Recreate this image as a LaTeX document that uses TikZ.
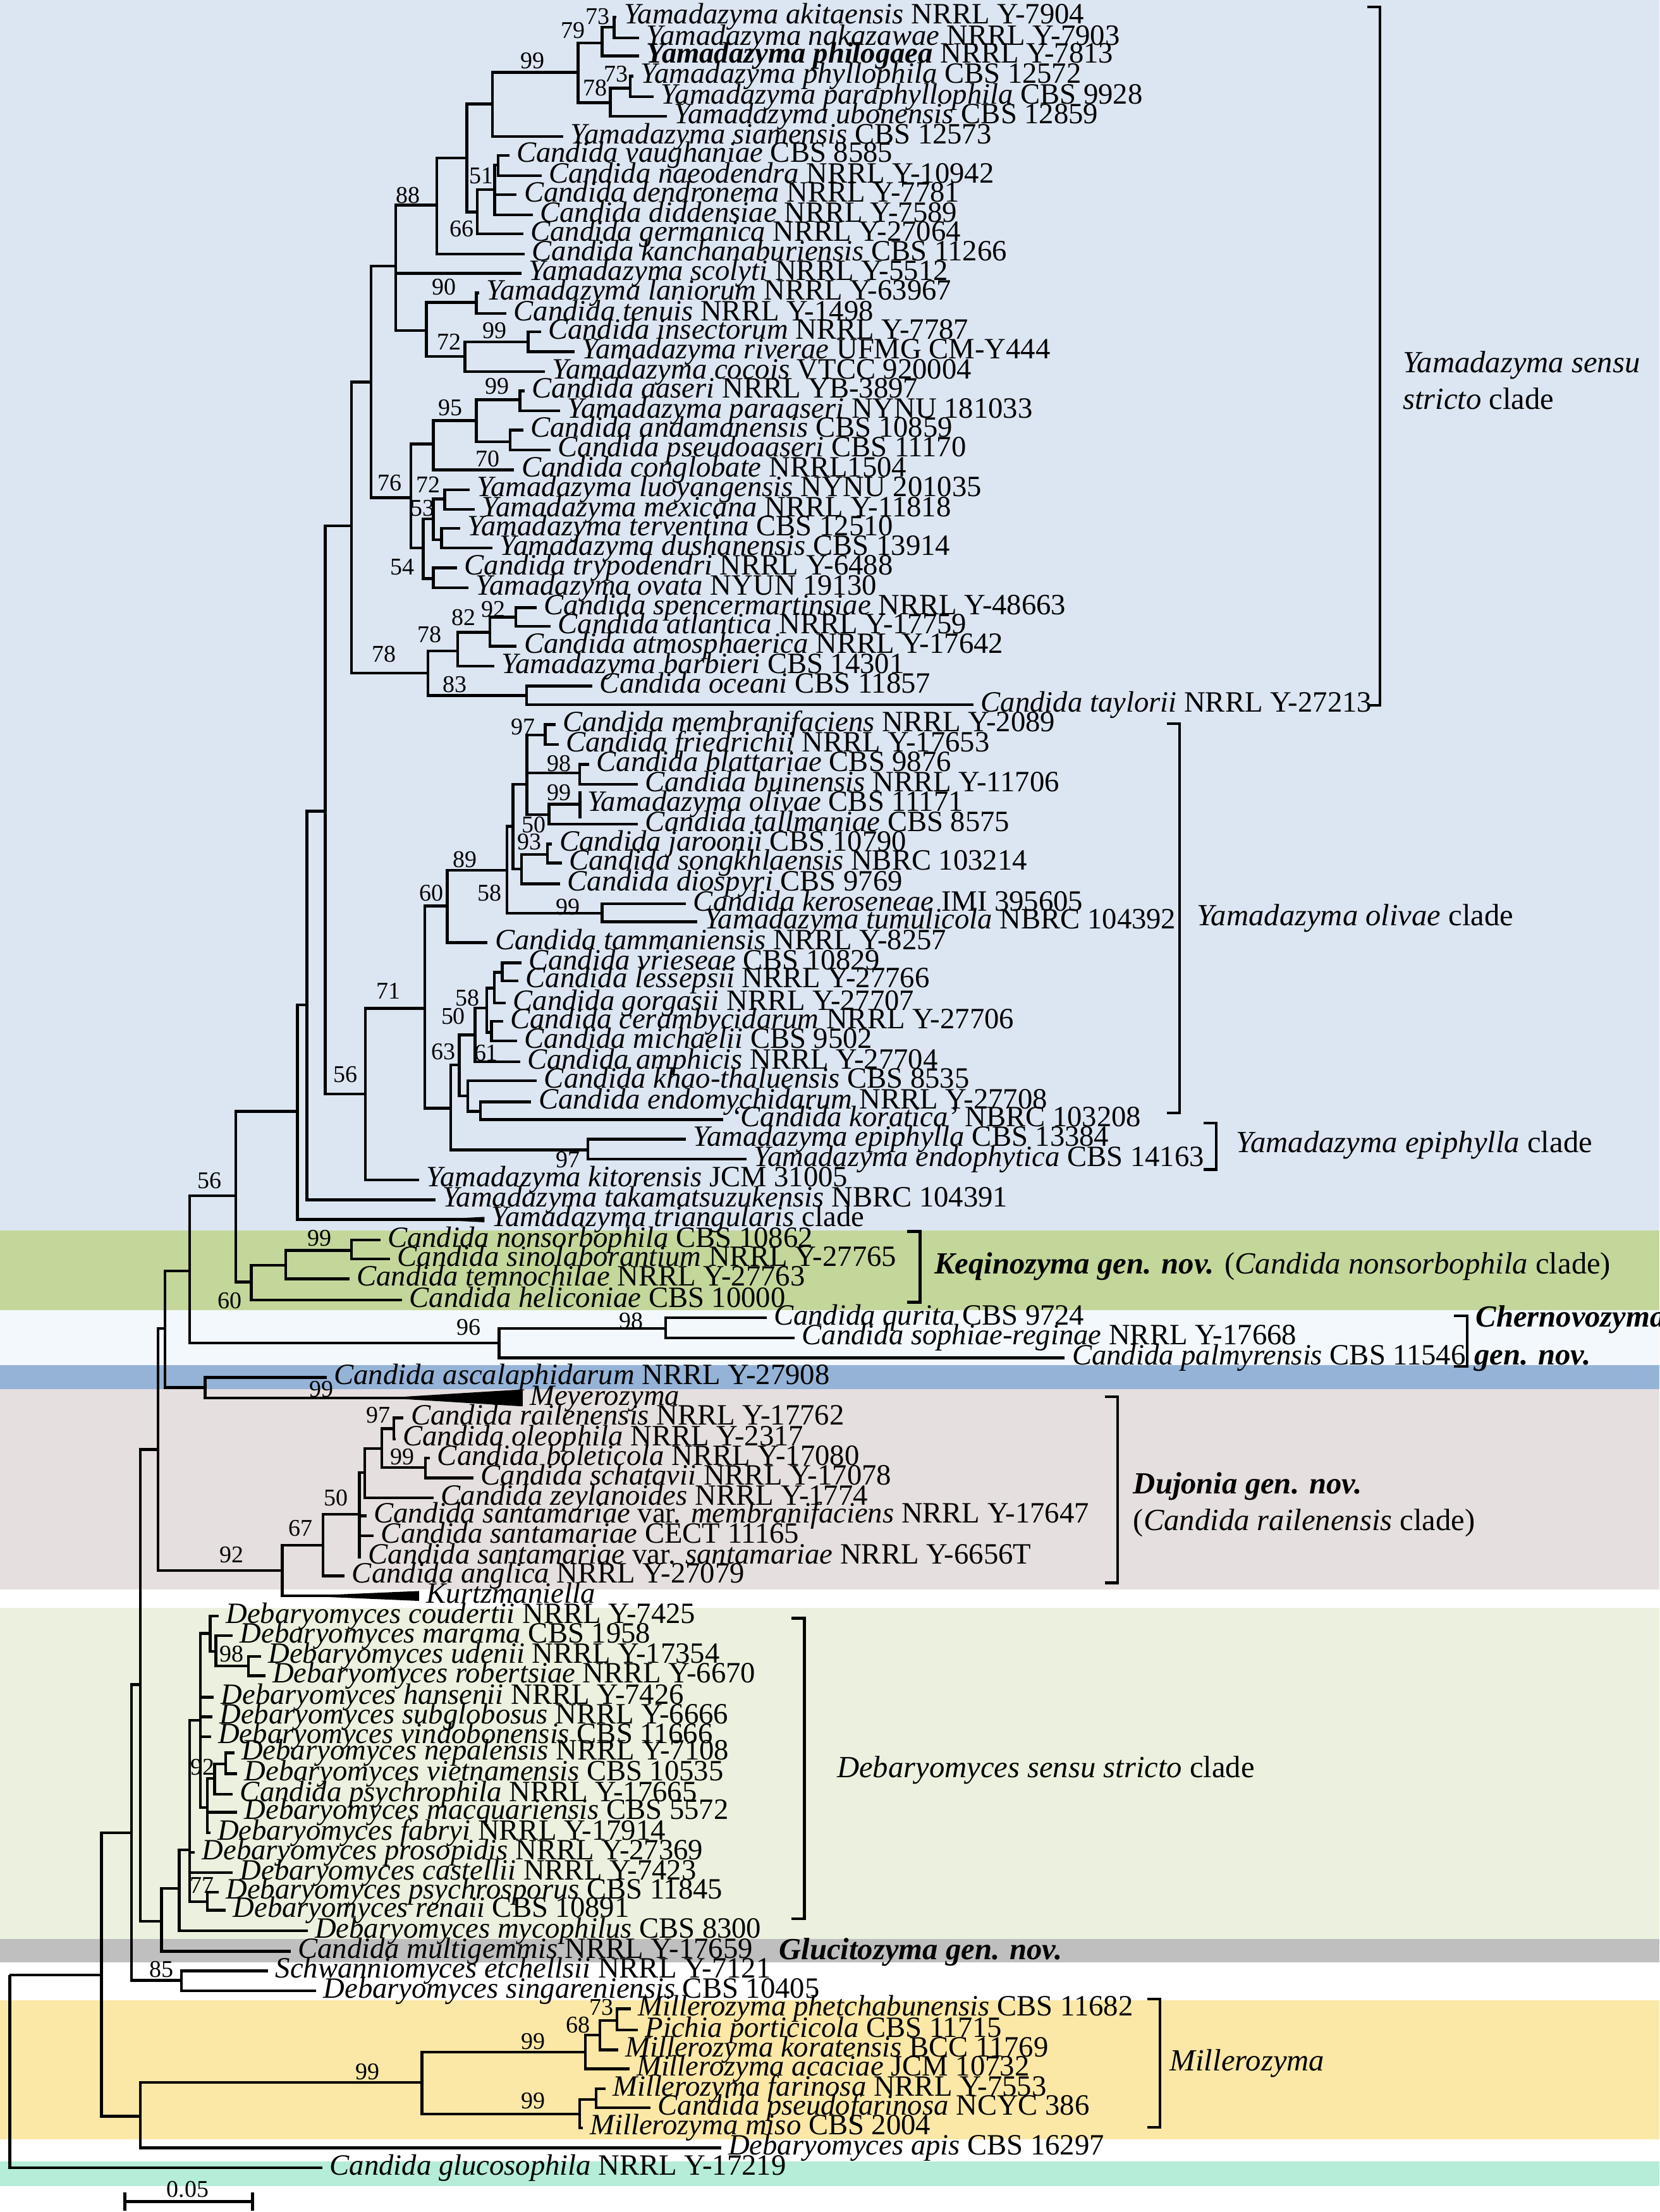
\documentclass[tikz,border=0pt]{standalone}
\usepackage{fontspec}
\setmainfont{Liberation Serif}
\usepackage{tikz}
\definecolor{bandyama}{HTML}{DCE6F2}
\definecolor{bandkeq}{HTML}{C4D79B}
\definecolor{bandcher}{HTML}{F2F8FC}
\definecolor{bandasc}{HTML}{95B3D7}
\definecolor{banddujo}{HTML}{E6DFDF}
\definecolor{banddeba}{HTML}{EBF1DE}
\definecolor{bandgluc}{HTML}{BFBFBF}
\definecolor{bandmill}{HTML}{FBE8A6}
\definecolor{bandgluco}{HTML}{B5EDD8}
\tikzset{
  br/.style={draw=black, line width=2pt, line join=miter},
  brk/.style={draw=black, line width=2pt},
  lf/.style={anchor=base west, inner sep=0pt, xshift=5pt, yshift=-5pt, font=\fontsize{20.9}{20.9}\selectfont},
  bs/.style={inner sep=0pt, font=\fontsize{17}{17}\selectfont},
  cl/.style={anchor=base west, inner sep=0pt, font=\fontsize{21.8}{21.8}\selectfont},
  tri/.style={fill=black},
}
\newcommand{\taxon}[2]{\textit{#1} #2}

\begin{document}
\begin{tikzpicture}[x=1pt,y=-1pt]
  \useasboundingbox (0,0) rectangle (1176,1568);

  % coloured bands behind the clades
  \fill[bandyama]  (0,0)      rectangle (1176,872.2);
  \fill[bandkeq]   (0,872.2)  rectangle (1176,928.6);
  \fill[bandcher]  (0,928.6)  rectangle (1176,967.7);
  \fill[bandasc]   (0,967.7)  rectangle (1176,984.9);
  \fill[banddujo]  (0,984.9)  rectangle (1176,1126.8);
  \fill[banddeba]  (0,1139.8) rectangle (1176,1374.6);
  \fill[bandgluc]  (0,1374.6) rectangle (1176,1391.1);
  \fill[bandmill]  (0,1418)   rectangle (1176,1516.5);
  \fill[bandgluco] (0,1532.2) rectangle (1176,1549.4);

  % internal nodes (x = depth, y = where the parent branch comes in)
  \foreach \n/\x/\y in {R0/6.9/1400.1, A1/435.2/19.2, A2/426.8/30.4, A3/409.6/51.2, A4/432.5/72.8,
      A5/446.7/62.4, A6/349/73.6, A7/330.8/112, A8/309.5/145.3, A9/280.5/188.5, A10/262.9/270.9,
      A11/249.1/372.8, A12/230.5/575, A13/217.5/712.4, A14/210.8/787.7, A15/167.2/847.6,
      A16/134.3/900.9, A17/117/941.6, A18/111.9/1027.5, A19/99.5/1194.1, A20/93.2/1299.2,
      A21/71.8/1400.1,
      B1/338.3/150.4, B2/350.6/134.4, B3/352.9/117,
      C1/302.2/234.4, C2/337.6/214.4, C3/329.6/252.7, C4/374.2/242.4,
      D1/291.2/352.9, D2/307.2/314.8, D3/337.6/298.2, D4/368.5/283.3, D9/361.6/313.2,
      D5/299.9/388.5, D6/307.2/367.8, D7/315.2/353.7, D10/312.9/382.7, D8/307.2/410.1,
      E1/303.3/477.2, E2/324.4/461.4, E3/347.2/448.2, E4/365.5/437.4, E5/373.1/493,
      F1/259/775.5, F2/301/714.8,
      G1/317/642.3, G2/359.3/616.9, G3/363.5/585.7, G4/373.5/556, G5/386.3/521, G6/410.8/547.8,
      G7/389/577.5, G8/369.6/616.1, G10/387.9/605.7, G9/426.8/647.3,
      H1/319.4/785.5, H2/325.5/754.9, H3/336.7/733.6, H4/345/714.6, H5/350.4/700.4,
      H6/348.4/731.8, H7/331.5/776.9, H8/340.5/787.8, H9/416.6/815.1, H10/356/689.2,
      K1/178/908.8, K2/202.4/896.8, K3/249/886.4,
      CH1/353.7/952.1, CH2/471.8/941.6, MY1/145.3/983.5,
      DU1/200.1/1113.3, DU2/228.9/1095.4, DU3/254.6/1073.5, DU4/258.5/1043.9,
      DU5/270.6/1026.8, DU6/279.1/1012.6, DU7/301.4/1040.2,
      DB0/114.4/1361.8, DB1/127/1338.6, DB2/134.4/1311.2, DB3/142/1219.5, DB4/147/1348.1,
      DB5/149/1157.8, DB6/147/1281.2, DB7/152/1260.6, DB8/160/1250.4, DB9/153/1170.7,
      DB10/176/1181,
      SW/128.6/1403.8,
      MI0/99.4/1500.1, MI1/299/1476.2, MI2/414.9/1454.6, MI3/425.2/1442.6, MI4/437.2/1432.2,
      MI6/410.8/1498.6, MI7/422.4/1488.2}
    \coordinate (\n) at (\x,\y);

  % leaves: branch tip and name
  \foreach \i/\x/\y/\txt in {
      1/437/12/{\taxon{Yamadazyma akitaensis}{NRRL Y-7904}},
      2/453/26.9/{\taxon{Yamadazyma nakazawae}{NRRL Y-7903}},
      3/453/39.7/{\textbf{\textit{Yamadazyma philogaea}} NRRL Y-7813},
      4/449/54/{\taxon{Yamadazyma phyllophila}{CBS 12572}},
      5/463.4/68.5/{\taxon{Yamadazyma paraphyllophila}{CBS 9928}},
      6/472.5/82.4/{\taxon{Yamadazyma ubonensis}{CBS 12859}},
      7/399.3/96.8/{\taxon{Yamadazyma siamensis}{CBS 12573}},
      8/360.9/110.1/{\taxon{Candida vaughaniae}{CBS 8585}},
      9/384/124.5/{\taxon{Candida naeodendra}{NRRL Y-10942}},
      10/366.2/138/{\taxon{Candida dendronema}{NRRL Y-7781}},
      11/377.6/152.3/{\taxon{Candida diddensiae}{NRRL Y-7589}},
      12/370.8/165.8/{\taxon{Candida germanica}{NRRL Y-27064}},
      13/371.9/180/{\taxon{Candida kanchanaburiensis}{CBS 11266}},
      14/369.6/193.8/{\taxon{Yamadazyma scolyti}{NRRL Y-5512}},
      15/339.5/207.6/{\taxon{Yamadazyma laniorum}{NRRL Y-63967}},
      16/358.9/222.2/{\taxon{Candida tenuis}{NRRL Y-1498}},
      17/383.3/235.3/{\taxon{Candida insectorum}{NRRL Y-7787}},
      18/407.3/249.4/{\taxon{Yamadazyma riverae}{UFMG CM-Y444}},
      19/386.3/263.4/{\taxon{Yamadazyma cocois}{VTCC 920004}},
      20/371.9/277/{\taxon{Candida aaseri}{NRRL YB-3897}},
      21/397/291.3/{\taxon{Yamadazyma paraaseri}{NYNU 181033}},
      22/370.8/304.9/{\taxon{Candida andamanensis}{CBS 10859}},
      23/390.2/318.9/{\taxon{Candida pseudoaaseri}{CBS 11170}},
      24/364.4/333/{\taxon{Candida conglobate}{NRRL1504}},
      25/333/347.1/{\taxon{Yamadazyma luoyangensis}{NYNU 201035}},
      26/336.5/361.2/{\taxon{Yamadazyma mexicana}{NRRL Y-11818}},
      27/326.2/374.5/{\taxon{Yamadazyma terventina}{CBS 12510}},
      28/349/388.5/{\taxon{Yamadazyma dushanensis}{CBS 13914}},
      29/323.9/402.6/{\taxon{Candida trypodendri}{NRRL Y-6488}},
      30/331.9/416.7/{\taxon{Yamadazyma ovata}{NYUN 19130}},
      31/380.4/430.8/{\taxon{Candida spencermartinsiae}{NRRL Y-48663}},
      32/390.2/444/{\taxon{Candida atlantica}{NRRL Y-17759}},
      33/366.2/458.1/{\taxon{Candida atmosphaerica}{NRRL Y-17642}},
      34/350.2/472.2/{\taxon{Yamadazyma barbieri}{CBS 14301}},
      35/419.9/486.3/{\taxon{Candida oceani}{CBS 11857}},
      36/690/499.6/{\taxon{Candida taylorii}{NRRL Y-27213}},
      37/393.6/513.6/{\taxon{Candida membranifaciens}{NRRL Y-2089}},
      38/395.9/527.7/{\taxon{Candida friedrichii}{NRRL Y-17653}},
      39/417.6/541.8/{\taxon{Candida blattariae}{CBS 9876}},
      40/451.9/555.9/{\taxon{Candida buinensis}{NRRL Y-11706}},
      41/411/570.1/{\taxon{Yamadazyma olivae}{CBS 11171}},
      42/452/584.2/{\taxon{Candida tallmaniae}{CBS 8575}},
      43/391.3/598.3/{\taxon{Candida jaroonii}{CBS 10790}},
      44/398.2/611.7/{\taxon{Candida songkhlaensis}{NBRC 103214}},
      45/397/626.5/{\taxon{Candida diospyri}{CBS 9769}},
      46/486.2/640.7/{\taxon{Candida keroseneae}{IMI 395605}},
      47/494/653.3/{\taxon{Yamadazyma tumulicola}{NBRC 104392}},
      48/345.6/668.1/{\taxon{Candida tammaniensis}{NRRL Y-8257}},
      49/369.4/682.5/{\taxon{Candida vrieseae}{CBS 10829}},
      50/367.4/695.2/{\taxon{Candida lessepsii}{NRRL Y-27766}},
      51/358.4/710.9/{\taxon{Candida gorgasii}{NRRL Y-27707}},
      52/356.4/724/{\taxon{Candida cerambycidarum}{NRRL Y-27706}},
      53/366.4/737.8/{\taxon{Candida michaelii}{CBS 9502}},
      54/368.5/752.7/{\taxon{Candida amphicis}{NRRL Y-27704}},
      55/380.5/766.1/{\taxon{Candida khao-thaluensis}{CBS 8535}},
      56/376.5/781.1/{\taxon{Candida endomychidarum}{NRRL Y-27708}},
      57/512.7/793.7/{\taxon{‘Candida koratica’}{NBRC 103208}},
      58/486/807.6/{\taxon{Yamadazyma epiphylla}{CBS 13384}},
      59/529/821.7/{\taxon{Yamadazyma endophytica}{CBS 14163}},
      60/297/836.3/{\taxon{Yamadazyma kitorensis}{JCM 31005}},
      61/308.5/850.5/{\taxon{Yamadazyma takamatsuzukensis}{NBRC 104391}},
      62/343.3/864.5/{\taxon{Yamadazyma triangularis}{clade}},
      63/269.5/878.9/{\taxon{Candida nonsorbophila}{CBS 10862}},
      64/276.5/892.4/{\taxon{Candida sinolaborantium}{NRRL Y-27765}},
      65/247.7/906.5/{\taxon{Candida temnochilae}{NRRL Y-27763}},
      66/285/921.5/{\taxon{Candida heliconiae}{CBS 10000}},
      67/543.2/934.1/{\taxon{Candida qurita}{CBS 9724}},
      68/563.2/948.3/{\taxon{Candida sophiae-reginae}{NRRL Y-17668}},
      69/754.6/962.5/{\taxon{Candida palmyrensis}{CBS 11546}},
      70/231.5/976.4/{\taxon{Candida ascalaphidarum}{NRRL Y-27908}},
      71/370.4/990.9/{\textit{Meyerozyma}},
      72/286/1005.1/{\taxon{Candida railenensis}{NRRL Y-17762}},
      73/280.3/1020/{\taxon{Candida oleophila}{NRRL Y-2317}},
      74/304.8/1033.5/{\taxon{Candida boleticola}{NRRL Y-17080}},
      75/335.6/1047.7/{\taxon{Candida schatavii}{NRRL Y-17078}},
      76/307.4/1061.8/{\taxon{Candida zeylanoides}{NRRL Y-1774}},
      77/259.8/1074.5/{\textit{Candida santamariae} var. \textit{membranifaciens} NRRL Y-17647},
      78/264.9/1088.7/{\taxon{Candida santamariae}{CECT 11165}},
      79/255.9/1103.6/{\textit{Candida santamariae} var. \textit{santamariae} NRRL Y-6656T},
      80/244.3/1117.1/{\taxon{Candida anglica}{NRRL Y-27079}},
      81/297/1131.3/{\textit{Kurtzmaniella}},
      82/155/1145.5/{\taxon{Debaryomyces coudertii}{NRRL Y-7425}},
      83/165/1159.5/{\taxon{Debaryomyces marama}{CBS 1958}},
      84/185/1174.1/{\taxon{Debaryomyces udenii}{NRRL Y-17354}},
      85/188/1187.8/{\taxon{Debaryomyces robertsiae}{NRRL Y-6670}},
      86/151.5/1203/{\taxon{Debaryomyces hansenii}{NRRL Y-7426}},
      87/150.5/1217/{\taxon{Debaryomyces subglobosus}{NRRL Y-6666}},
      88/149.5/1231/{\taxon{Debaryomyces vindobonensis}{CBS 11666}},
      89/166/1242.6/{\taxon{Debaryomyces nepalensis}{NRRL Y-7108}},
      90/168/1257.2/{\taxon{Debaryomyces vietnamensis}{CBS 10535}},
      91/165/1271.8/{\taxon{Candida psychrophila}{NRRL Y-17665}},
      92/168/1284.6/{\taxon{Debaryomyces macquariensis}{CBS 5572}},
      93/149/1299.2/{\taxon{Debaryomyces fabryi}{NRRL Y-17914}},
      94/138/1313/{\taxon{Debaryomyces prosopidis}{NRRL Y-27369}},
      95/165/1327.5/{\taxon{Debaryomyces castellii}{NRRL Y-7423}},
      96/155/1341.2/{\taxon{Debaryomyces psychrosporus}{CBS 11845}},
      97/160/1354.1/{\taxon{Debaryomyces renaii}{CBS 10891}},
      98/218/1368.6/{\taxon{Debaryomyces mycophilus}{CBS 8300}},
      99/206/1383.2/{\taxon{Candida multigemmis}{NRRL Y-17659}},
      100/190/1397.1/{\taxon{Schwanniomyces etchellsii}{NRRL Y-7121}},
      101/224/1411.3/{\taxon{Debaryomyces singareniensis}{CBS 10405}},
      102/447/1424/{\taxon{Millerozyma phetchabunensis}{CBS 11682}},
      103/452/1438.9/{\taxon{Pichia porticicola}{CBS 11715}},
      104/438/1453.1/{\taxon{Millerozyma koratensis}{BCC 11769}},
      105/446/1466.5/{\taxon{Millerozyma acaciae}{JCM 10732}},
      106/429/1480.7/{\taxon{Millerozyma farinosa}{NRRL Y-7553}},
      107/461/1494.1/{\taxon{Candida pseudofarinosa}{NCYC 386}},
      108/413/1508.3/{\taxon{Millerozyma miso}{CBS 2004}},
      109/511/1522.5/{\taxon{Debaryomyces apis}{CBS 16297}},
      110/228.5/1536.7/{\taxon{Candida glucosophila}{NRRL Y-17219}}}
    {
      \coordinate (t\i) at (\x,\y);
      \node[lf] (n\i) at (t\i) {\txt};
    }

  % branches
  \foreach \p/\c in {R0/A21, R0/t110, A21/A20, A21/MI0, A20/A19, A20/SW, A19/A18, A19/DB0,
      A18/A17, A18/DU1, A17/A16, A17/MY1, A16/A15, A16/CH1, A15/A14, A15/K1,
      A14/A13, A14/t62, A13/A12, A13/t61, A12/A11, A12/F1, A11/A10, A11/E1,
      A10/A9, A10/D1, A9/A8, A9/t14, A9/C1, A8/A7, A8/t13, A7/A6, A7/B1,
      A6/A3, A6/t7, A3/A2, A3/A4, A2/A1, A2/t3, A1/t1, A1/t2, A4/A5, A4/t6, A5/t4, A5/t5,
      B1/B2, B1/t12, B2/B3, B2/t10, B2/t11, B3/t8, B3/t9,
      C1/C2, C1/C3, C2/t15, C2/t16, C3/C4, C3/t19, C4/t17, C4/t18,
      D1/D2, D1/D5, D2/D3, D2/t24, D3/D4, D3/D9, D4/t20, D4/t21, D9/t22, D9/t23,
      D5/D6, D5/D8, D6/D7, D6/D10, D7/t25, D7/t26, D10/t27, D10/t28, D8/t29, D8/t30,
      E1/E2, E1/E5, E2/E3, E2/t34, E3/E4, E3/t33, E4/t31, E4/t32, E5/t35, E5/t36,
      F1/F2, F1/t60, F2/G1, F2/H1, G1/G2, G1/t48, G2/G3, G2/G9, G3/G4, G3/G8,
      G4/G5, G4/G6, G4/G7, G5/t37, G5/t38, G6/t39, G6/t40, G7/t41, G7/t42,
      G8/G10, G8/t45, G10/t43, G10/t44, G9/t46, G9/t47,
      H1/H2, H1/H9, H2/H3, H2/H7, H3/H4, H3/t54, H4/H5, H4/H6, H5/H10, H5/t51,
      H10/t49, H10/t50, H6/t52, H6/t53, H7/t55, H7/H8, H8/t56, H8/t57, H9/t58, H9/t59,
      K1/K2, K1/t66, K2/K3, K2/t65, K3/t63, K3/t64,
      CH1/CH2, CH1/t69, CH2/t67, CH2/t68, MY1/t70, MY1/t71,
      DU1/DU2, DU1/t81, DU2/DU3, DU2/t80, DU3/DU4, DU3/t77, DU3/t78, DU3/t79,
      DU4/DU5, DU4/t76, DU5/DU6, DU5/DU7, DU6/t72, DU6/t73, DU7/t74, DU7/t75,
      DB0/DB1, DB0/t99, DB1/DB2, DB1/t98, DB2/DB3, DB2/t94, DB2/t95, DB2/DB4,
      DB3/DB5, DB3/t86, DB3/t87, DB3/t88, DB3/DB6, DB4/t96, DB4/t97,
      DB5/t82, DB5/DB9, DB9/t83, DB9/DB10, DB10/t84, DB10/t85,
      DB6/DB7, DB6/t92, DB6/t93, DB7/DB8, DB7/t91, DB8/t89, DB8/t90,
      SW/t100, SW/t101, MI0/MI1, MI0/t109, MI1/MI2, MI1/MI6, MI2/MI3, MI2/t105,
      MI3/MI4, MI3/t104, MI4/t102, MI4/t103, MI6/MI7, MI6/t108, MI7/t106, MI7/t107}
    \draw[br] (\p) |- (\c);
  \draw[br] (411,561) -- (411,580);

  % collapsed clades
  \fill[tri] (305,864.5) -- (343.3,862.6) -- (343.3,866.4) -- cycle;
  \fill[tri] (272.6,990.9) -- (370.4,984.9) -- (370.4,996.9) -- cycle;
  \fill[tri] (215,1131.3) -- (297,1127.8) -- (297,1134.8) -- cycle;

  % bootstrap values
  \foreach \i/\x/\y/\v in {1/423.7/11.6/73, 2/406/21.6/79, 3/377.6/43.2/99, 4/436.4/52.4/73,
      5/421.7/62.4/78, 6/341.1/124.8/51, 7/289.1/138.4/88, 8/327.4/162.4/66, 9/314.7/203.2/90,
      10/350.5/234.4/99, 11/318.2/242.4/72, 12/352.2/273.7/99, 13/319.4/289/95,
      14/345.8/325.1/70, 15/276/342.3/76, 16/303.3/343.8/72, 17/299.4/360.2/53,
      18/285.2/401.8/54, 19/349.6/432/92, 20/328.7/437.9/82, 21/304.2/449.8/78,
      22/272.3/463.7/78, 23/322.5/485/83, 24/370.8/515.1/97, 25/396.1/541.4/98,
      26/396.1/561.8/99, 27/378.2/584.7/50, 28/375.1/597/93, 29/329.6/609.2/89,
      30/305.6/633/60, 31/346.8/633/58, 32/402.7/643/99, 33/275.3/702.4/71,
      34/331.3/707.5/58, 35/321.2/720.6/50, 36/314.4/745.7/63, 37/344.5/746.3/61,
      38/244.8/761.5/56, 39/402.4/822/97, 40/148.6/836.7/56, 41/226.3/877.5/99,
      42/162.7/921.9/60, 43/332.3/940.8/96, 44/447.3/936.4/98, 45/227.6/984.8/99,
      46/268.1/1003.3/97, 47/285.3/1032.5/99, 48/237.9/1062/50, 49/212.9/1083.1/67,
      50/164.3/1102.1/92, 51/164/1172.4/98, 52/143.5/1252.5/92, 53/143/1336.3/77,
      54/114.3/1396/85, 55/426.1/1422.7/73, 56/409.9/1435.5/68, 57/378/1447.3/99,
      58/260.6/1468.5/99, 59/378/1489/99}
    \node[bs] (bs\i) at (\x,\y) {\v};

  % clade brackets
  \draw[brk] (969,5) -- (978,5) -- (978,500) -- (969,500);
  \draw[brk] (827,513) -- (836,513) -- (836,789) -- (827,789);
  \draw[brk] (853,796) -- (862,796) -- (862,829) -- (853,829);
  \draw[brk] (643,873) -- (652,873) -- (652,923) -- (643,923);
  \draw[brk] (1030.4,932.7) -- (1039.8,932.7) -- (1039.8,968.5) -- (1030.4,968.5);
  \draw[brk] (783,990) -- (792,990) -- (792,1122) -- (783,1122);
  \draw[brk] (561,1147) -- (570,1147) -- (570,1360) -- (561,1360);
  \draw[brk] (813,1417) -- (822,1417) -- (822,1508) -- (813,1508);

  % clade names
  \node[cl] (yss1) at (994,264) {\textit{Yamadazyma sensu}};
  \node[cl] (yss2) at (994,290) {\textit{stricto} clade};
  \node[cl] (yoli) at (848,656) {\textit{Yamadazyma olivae} clade};
  \node[cl] (yepi) at (876,817) {\textit{Yamadazyma epiphylla} clade};
  \node[cl] (keq) at (662,903) {\textbf{\textit{Keqinozyma gen. nov.}} (\textit{Candida nonsorbophila} clade)};
  \node[cl] (che1) at (1045.7,940.5) {\textbf{\textit{Chernovozyma}}};
  \node[cl] (che2) at (1044.6,967.5) {\textbf{\textit{gen. nov.}}};
  \node[cl] (duj1) at (803,1059) {\textbf{\textit{Dujonia gen. nov.}}};
  \node[cl] (duj2) at (803,1085) {(\textit{Candida railenensis} clade)};
  \node[cl] (deb) at (593,1260) {\textit{Debaryomyces sensu stricto} clade};
  \node[cl] (glu) at (552,1389) {\textbf{\textit{Glucitozyma gen. nov.}}};
  \node[cl] (mil) at (829,1468) {\textit{Millerozyma}};

  % scale bar
  \draw[br] (88.5,1554) -- (88.5,1567) (88.5,1560.6) -- (179,1560.6) (179,1554) -- (179,1567);
  \node[bs] (scl) at (133,1552) {0.05};
\end{tikzpicture}
\end{document}
